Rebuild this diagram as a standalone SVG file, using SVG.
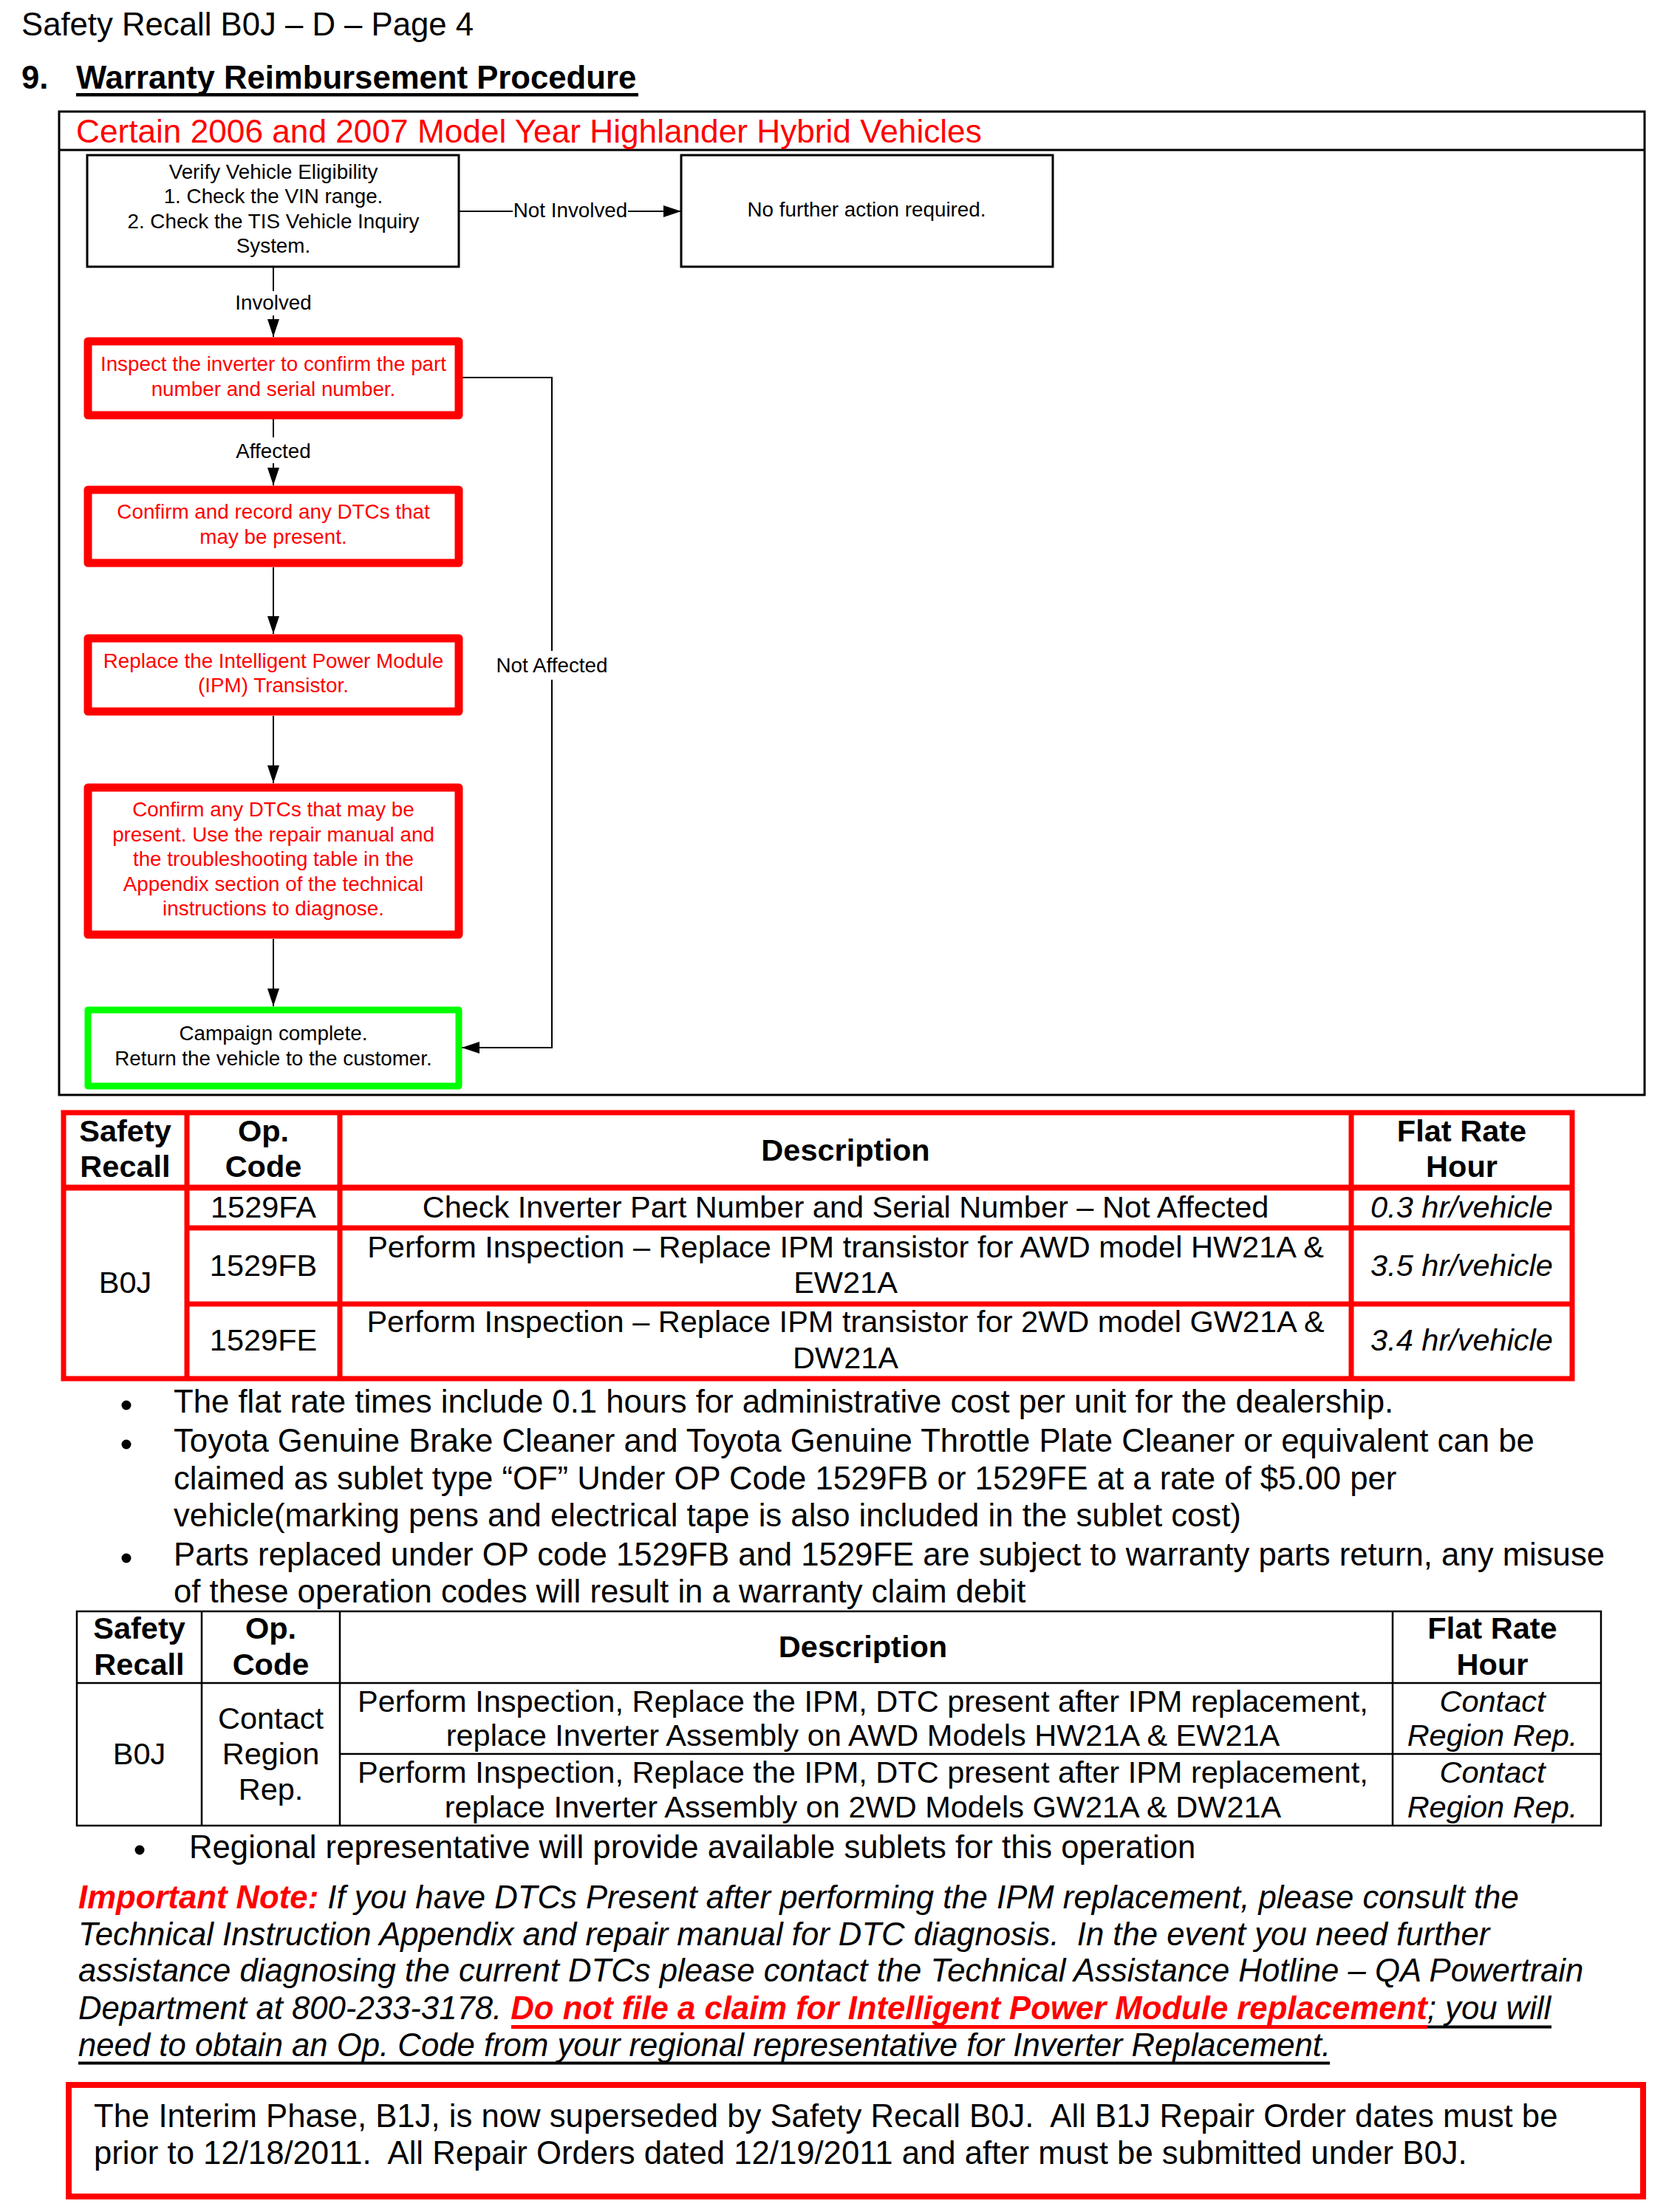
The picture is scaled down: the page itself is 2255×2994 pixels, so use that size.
<svg xmlns="http://www.w3.org/2000/svg" width="2255" height="2994" viewBox="0 0 2255 2994">
<defs>
<style>
text { font-family: "Liberation Sans", Arial, sans-serif; fill:#000; }
.t44 { font-size:43.7px; }
.b44 { font-size:43.7px; font-weight:bold; }
.fc { font-size:27.8px; text-anchor:middle; }
.tb { font-size:41.5px; text-anchor:middle; }
.bold { font-weight:bold; }
.it { font-style:italic; }
.red { fill:#ff0000; }
.node { fill:#fff; stroke:#000; stroke-width:3; }
.rnode { fill:#fff; stroke:#ff0000; stroke-width:11; stroke-linejoin:round; }
.gnode { fill:#fff; stroke:#00ff00; stroke-width:9; stroke-linejoin:round; }
.conn { fill:none; stroke:#000; stroke-width:2; }
.lblbg { fill:#fff; }
.rline { stroke:#ff0000; stroke-width:7; fill:none; }
.kline { stroke:#000; stroke-width:2.5; fill:none; }
</style>
<marker id="arr" markerUnits="userSpaceOnUse" markerWidth="24" markerHeight="16" refX="24" refY="8" orient="auto"><path d="M0,0 L24,8 L0,16 z" fill="#000"/></marker>
</defs>
<rect x="0" y="0" width="2255" height="2994" fill="#fff"/>

<!-- Header -->
<g id="header">
<text class="t44" x="29" y="48">Safety Recall B0J – D – Page 4</text>
<text class="b44" x="29" y="120">9.</text>
<text class="b44" x="103" y="120">Warranty Reimbursement Procedure</text>
<rect x="103" y="126" width="761" height="4.5" fill="#000"/>
</g>

<!-- Flowchart frame -->
<g id="frame">
<rect x="80" y="151" width="2146" height="1331" fill="none" stroke="#000" stroke-width="3"/>
<line x1="80" y1="203" x2="2226" y2="203" stroke="#000" stroke-width="3"/>
<text class="red" style="font-size:44.2px" x="103" y="193">Certain 2006 and 2007 Model Year Highlander Hybrid Vehicles</text>
</g>

<!-- Connectors -->
<g id="connectors">
<line class="conn" x1="621" y1="286" x2="922" y2="286" marker-end="url(#arr)"/>
<line class="conn" x1="370" y1="361" x2="370" y2="456" marker-end="url(#arr)"/>
<line class="conn" x1="370" y1="567" x2="370" y2="657" marker-end="url(#arr)"/>
<line class="conn" x1="370" y1="768" x2="370" y2="858" marker-end="url(#arr)"/>
<line class="conn" x1="370" y1="969" x2="370" y2="1060" marker-end="url(#arr)"/>
<line class="conn" x1="370" y1="1271" x2="370" y2="1362" marker-end="url(#arr)"/>
<polyline class="conn" points="626,511 747,511 747,1418 625,1418" marker-end="url(#arr)"/>
<rect class="lblbg" x="694" y="270" width="156" height="30"/>
<text class="fc" x="772" y="294">Not Involved</text>
<rect class="lblbg" x="320" y="394" width="100" height="33"/>
<text class="fc" x="370" y="419">Involved</text>
<rect class="lblbg" x="315" y="592" width="110" height="35"/>
<text class="fc" x="370" y="620">Affected</text>
<rect class="lblbg" x="665" y="881" width="164" height="39"/>
<text class="fc" x="747" y="910">Not Affected</text>
</g>

<!-- Nodes -->
<g id="node-verify">
<rect class="node" x="118" y="210" width="503" height="151"/>
<text class="fc" x="370" y="242">Verify Vehicle Eligibility</text>
<text class="fc" x="370" y="275">1. Check the VIN range.</text>
<text class="fc" x="370" y="309">2. Check the TIS Vehicle Inquiry</text>
<text class="fc" x="370" y="342">System.</text>
</g>
<g id="node-nofurther">
<rect class="node" x="922" y="210" width="503" height="151"/>
<text class="fc" x="1173" y="293">No further action required.</text>
</g>
<g id="node-inspect">
<rect class="rnode" x="119" y="462" width="502" height="100"/>
<text class="fc red" x="370" y="502">Inspect the inverter to confirm the part</text>
<text class="fc red" x="370" y="536">number and serial number.</text>
</g>
<g id="node-confirm">
<rect class="rnode" x="119" y="663" width="502" height="99"/>
<text class="fc red" x="370" y="702">Confirm and record any DTCs that</text>
<text class="fc red" x="370" y="736">may be present.</text>
</g>
<g id="node-replace">
<rect class="rnode" x="119" y="864" width="502" height="99"/>
<text class="fc red" x="370" y="904">Replace the Intelligent Power Module</text>
<text class="fc red" x="370" y="937">(IPM) Transistor.</text>
</g>
<g id="node-confirmany">
<rect class="rnode" x="119" y="1066" width="502" height="199"/>
<text class="fc red" x="370" y="1105">Confirm any DTCs that may be</text>
<text class="fc red" x="370" y="1139">present. Use the repair manual and</text>
<text class="fc red" x="370" y="1172">the troubleshooting table in the</text>
<text class="fc red" x="370" y="1206">Appendix section of the technical</text>
<text class="fc red" x="370" y="1239">instructions to diagnose.</text>
</g>
<g id="node-campaign">
<rect class="gnode" x="119" y="1367" width="502" height="103"/>
<text class="fc" x="370" y="1408">Campaign complete.</text>
<text class="fc" x="370" y="1442">Return the vehicle to the customer.</text>
</g>

<!-- Table 1 -->
<g id="table1">
<rect class="rline" x="86" y="1506" width="2042" height="360"/>
<line class="rline" x1="253" y1="1506" x2="253" y2="1866"/>
<line class="rline" x1="460" y1="1506" x2="460" y2="1866"/>
<line class="rline" x1="1829" y1="1506" x2="1829" y2="1866"/>
<line class="rline" x1="86" y1="1607.5" x2="2128" y2="1607.5" style="stroke-width:8"/>
<line class="rline" x1="253" y1="1662" x2="2128" y2="1662"/>
<line class="rline" x1="253" y1="1765" x2="2128" y2="1765"/>
<text class="tb bold" x="169.5" y="1545">Safety</text>
<text class="tb bold" x="169.5" y="1593">Recall</text>
<text class="tb bold" x="356.5" y="1545">Op.</text>
<text class="tb bold" x="356.5" y="1593">Code</text>
<text class="tb bold" x="1144.5" y="1571">Description</text>
<text class="tb bold" x="1978.5" y="1545">Flat Rate</text>
<text class="tb bold" x="1978.5" y="1593">Hour</text>
<text class="tb" x="169.5" y="1750">B0J</text>
<text class="tb" x="356.5" y="1648">1529FA</text>
<text class="tb" x="1144.5" y="1648">Check Inverter Part Number and Serial Number – Not Affected</text>
<text class="tb it" x="1978.5" y="1648">0.3 hr/vehicle</text>
<text class="tb" x="356.5" y="1727">1529FB</text>
<text class="tb" x="1144.5" y="1702">Perform Inspection – Replace IPM transistor for AWD model HW21A &amp;</text>
<text class="tb" x="1144.5" y="1750">EW21A</text>
<text class="tb it" x="1978.5" y="1727">3.5 hr/vehicle</text>
<text class="tb" x="356.5" y="1828">1529FE</text>
<text class="tb" x="1144.5" y="1803">Perform Inspection – Replace IPM transistor for 2WD model GW21A &amp;</text>
<text class="tb" x="1144.5" y="1852">DW21A</text>
<text class="tb it" x="1978.5" y="1828">3.4 hr/vehicle</text>
</g>

<!-- Bullets 1 -->
<g id="bullets1">
<circle cx="171" cy="1902" r="6.5" fill="#000"/>
<circle cx="171" cy="1955" r="6.5" fill="#000"/>
<circle cx="171" cy="2109" r="6.5" fill="#000"/>
<text class="t44" x="235" y="1912">The flat rate times include 0.1 hours for administrative cost per unit for the dealership.</text>
<text class="t44" x="235" y="1965">Toyota Genuine Brake Cleaner and Toyota Genuine Throttle Plate Cleaner or equivalent can be</text>
<text class="t44" x="235" y="2016">claimed as sublet type “OF” Under OP Code 1529FB or 1529FE at a rate of $5.00 per</text>
<text class="t44" x="235" y="2066">vehicle(marking pens and electrical tape is also included in the sublet cost)</text>
<text class="t44" x="235" y="2119">Parts replaced under OP code 1529FB and 1529FE are subject to warranty parts return, any misuse</text>
<text class="t44" x="235" y="2169">of these operation codes will result in a warranty claim debit</text>
</g>

<!-- Table 2 -->
<g id="table2">
<rect class="kline" x="104" y="2181" width="2063" height="290"/>
<line class="kline" x1="273" y1="2181" x2="273" y2="2471"/>
<line class="kline" x1="460" y1="2181" x2="460" y2="2471"/>
<line class="kline" x1="1885" y1="2181" x2="1885" y2="2471"/>
<line class="kline" x1="104" y1="2278" x2="2167" y2="2278"/>
<line class="kline" x1="460" y1="2374" x2="2167" y2="2374"/>
<text class="tb bold" x="188.5" y="2218">Safety</text>
<text class="tb bold" x="188.5" y="2267">Recall</text>
<text class="tb bold" x="366.5" y="2218">Op.</text>
<text class="tb bold" x="366.5" y="2267">Code</text>
<text class="tb bold" x="1168" y="2243">Description</text>
<text class="tb bold" x="2020" y="2218">Flat Rate</text>
<text class="tb bold" x="2020" y="2267">Hour</text>
<text class="tb" x="188.5" y="2388">B0J</text>
<text class="tb" x="366.5" y="2340">Contact</text>
<text class="tb" x="366.5" y="2388">Region</text>
<text class="tb" x="366.5" y="2436">Rep.</text>
<text class="tb" x="1168" y="2317">Perform Inspection, Replace the IPM, DTC present after IPM replacement,</text>
<text class="tb" x="1168" y="2363">replace Inverter Assembly on AWD Models HW21A &amp; EW21A</text>
<text class="tb" x="1168" y="2413">Perform Inspection, Replace the IPM, DTC present after IPM replacement,</text>
<text class="tb" x="1168" y="2460">replace Inverter Assembly on 2WD Models GW21A &amp; DW21A</text>
<text class="tb it" x="2020" y="2317">Contact</text>
<text class="tb it" x="2020" y="2363">Region Rep.</text>
<text class="tb it" x="2020" y="2413">Contact</text>
<text class="tb it" x="2020" y="2460">Region Rep.</text>
</g>

<!-- Bullet 2 -->
<g id="bullet2">
<circle cx="189" cy="2504" r="6.5" fill="#000"/>
<text class="t44" x="256" y="2515">Regional representative will provide available sublets for this operation</text>
</g>

<!-- Important note -->
<g id="note">
<text class="t44 it" x="106" y="2583" xml:space="preserve"><tspan class="bold red">Important Note:</tspan> If you have DTCs Present after performing the IPM replacement, please consult the</text>
<text class="t44 it" x="106" y="2633" xml:space="preserve">Technical Instruction Appendix and repair manual for DTC diagnosis.  In the event you need further</text>
<text class="t44 it" x="106" y="2682">assistance diagnosing the current DTCs please contact the Technical Assistance Hotline – QA Powertrain</text>
<text class="t44 it" x="106" y="2733" xml:space="preserve">Department at 800-233-3178. <tspan class="bold red">Do not file a claim for Intelligent Power Module replacement</tspan>; you will</text>
<rect x="692" y="2741" width="1240" height="5" fill="#ff0000"/>
<rect x="1932" y="2741.5" width="168" height="4" fill="#000"/>
<text class="t44 it" x="106" y="2783">need to obtain an Op. Code from your regional representative for Inverter Replacement.</text>
<rect x="106" y="2790.5" width="1694" height="4" fill="#000"/>
</g>

<!-- Final box -->
<g id="interim">
<rect x="93" y="2822" width="2131" height="151" fill="none" stroke="#ff0000" stroke-width="8"/>
<text class="t44" x="127" y="2879" xml:space="preserve">The Interim Phase, B1J, is now superseded by Safety Recall B0J.  All B1J Repair Order dates must be</text>
<text class="t44" x="127" y="2929" xml:space="preserve">prior to 12/18/2011.  All Repair Orders dated 12/19/2011 and after must be submitted under B0J.</text>
</g>
</svg>
